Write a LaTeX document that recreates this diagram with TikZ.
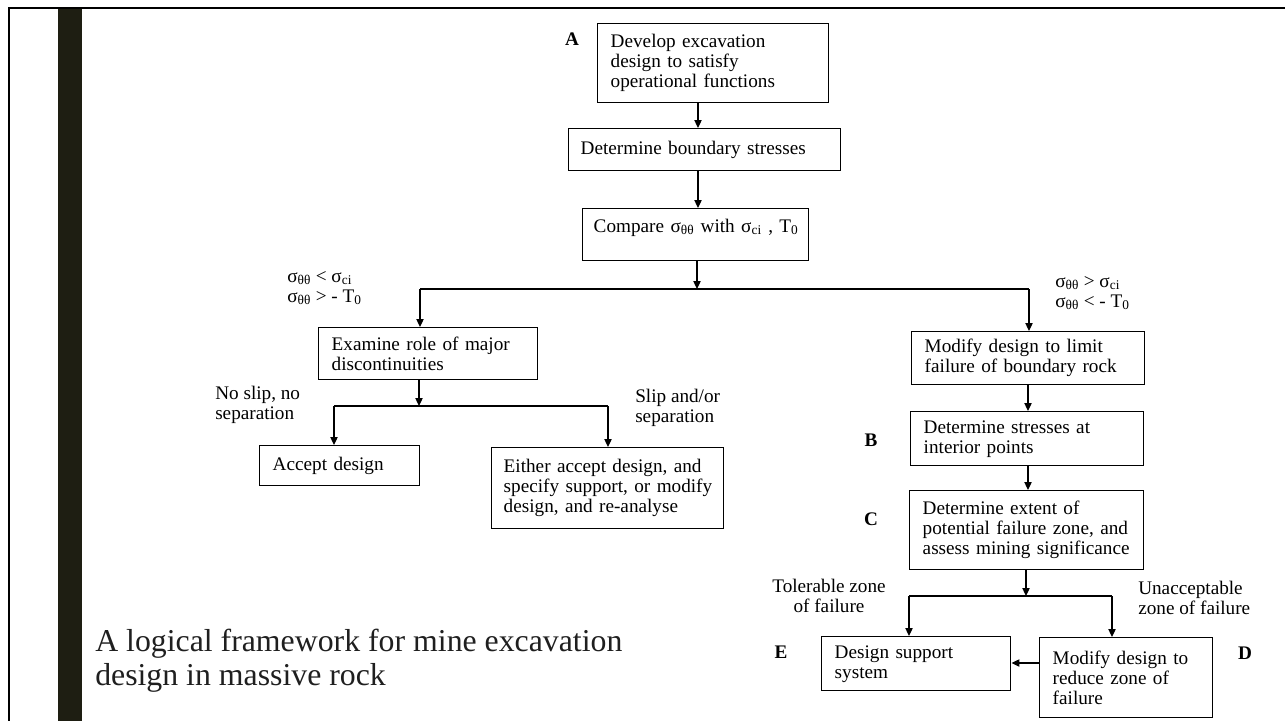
\documentclass[tikz,border=0pt]{standalone}
\usepackage{fontspec}
\setmainfont{Liberation Serif}
\usetikzlibrary{arrows.meta}
\definecolor{barcol}{HTML}{1E1E12}
\begin{document}
\begin{tikzpicture}[x=0.75pt,y=-0.75pt,
  bx/.style={draw, line width=1.1pt, inner xsep=9.75pt, inner ysep=2pt, align=left,
    anchor=north west, font=\fontsize{14.4}{15}\selectfont},
  arr/.style={line width=0.9pt, -{Triangle[length=6pt,width=5.5pt]}},
  ln/.style={line width=0.9pt},
  lbl/.style={font=\fontsize{14.4}{15}\selectfont, inner sep=0pt, align=left},
  tag/.style={font=\fontsize{14.4}{15}\selectfont\bfseries, inner sep=0pt},
  capt/.style={font=\fontsize{23.85}{25.5}\selectfont, inner sep=0pt, align=left, text=black!88}
]
\useasboundingbox (0,0) rectangle (1285,721);
% frame
\fill[barcol] (58,8) rectangle (82,721);
\draw[line width=1.5pt] (9,721) -- (9,8) -- (1285,8);

% boxes
\node[bx, text width=153.75pt, minimum height=59.25pt] (A) at (597,23)
  {\mbox{Develop excavation}\\\mbox{design to satisfy}\\\mbox{operational functions}};
\node[bx, text width=186pt, minimum height=31.5pt, inner xsep=9pt] (Bd) at (568,128)
  {\mbox{Determine boundary stresses}};
\node[bx, text width=153pt, minimum height=39pt, inner xsep=8.25pt, text depth=14pt] (Cmp) at (582,208)
  {\mbox{Compare σ\textsubscript{θθ} with σ\textsubscript{ci} , T\textsubscript{0}}};
\node[bx, text width=144.75pt, minimum height=39pt] (Ex) at (318,327)
  {\mbox{Examine role of major}\\\mbox{discontinuities}};
\node[bx, text width=155.25pt, minimum height=39.75pt] (Md) at (911,331)
  {\mbox{Modify design to limit}\\\mbox{failure of boundary rock}};
\node[bx, text width=100.5pt, minimum height=30pt] (Acc) at (259,445)
  {\mbox{Accept design}};
\node[bx, text width=156pt, minimum height=60.75pt, inner xsep=9pt] (Eit) at (491,447)
  {\mbox{Either accept design, and}\\\mbox{specify support, or modify}\\\mbox{design, and re-analyse}};
\node[bx, text width=155.25pt, minimum height=40.5pt] (Ds) at (910,411)
  {\mbox{Determine stresses at}\\\mbox{interior points}};
\node[bx, text width=156pt, minimum height=59.25pt] (Ext) at (909,490)
  {\mbox{Determine extent of}\\\mbox{potential failure zone, and}\\\mbox{assess mining significance}};
\node[bx, text width=122.25pt, minimum height=40.5pt] (Sup) at (821,636)
  {\mbox{Design support}\\\mbox{system}};
\node[bx, text width=110.25pt, minimum height=60pt] (Red) at (1039,637)
  {\mbox{Modify design to}\\\mbox{reduce zone of}\\\mbox{failure}};

% connector coordinates
\coordinate (x1) at (698,0);
\coordinate (j1) at (697,289);
\coordinate (jL) at (420,289);
\coordinate (jR) at (1029,289);
\coordinate (j2) at (419,406);
\coordinate (jAL) at (334,406);
\coordinate (jAR) at (608,406);
\coordinate (x2) at (1028,0);
\coordinate (j3) at (1026,596);
\coordinate (jBL) at (909,596);
\coordinate (jBR) at (1112,596);
\coordinate (y4) at (0,663);

% connectors
\draw[arr] (A.south -| x1) -- (Bd.north -| x1);
\draw[arr] (Bd.south -| x1) -- (Cmp.north -| x1);
\draw[arr] (Cmp.south -| j1) -- (j1);
\draw[ln] (jL) -- (jR);
\draw[arr] (jL) -- (Ex.north -| jL);
\draw[arr] (jR) -- (Md.north -| jR);
\draw[arr] (Ex.south -| j2) -- (j2);
\draw[ln] (jAL) -- (jAR);
\draw[arr] (jAL) -- (Acc.north -| jAL);
\draw[arr] (jAR) -- (Eit.north -| jAR);
\draw[arr] (Md.south -| x2) -- (Ds.north -| x2);
\draw[arr] (Ds.south -| x2) -- (Ext.north -| x2);
\draw[arr] (Ext.south -| j3) -- (j3);
\draw[ln] (jBL) -- (jBR);
\draw[arr] (jBL) -- (Sup.north -| jBL);
\draw[arr] (jBR) -- (Red.north -| jBR);
\draw[arr] (Red.west |- y4) -- (Sup.east |- y4);

% letter tags
\node[tag] (tA) at (572,39) {A};
\node[tag] (tB) at (871,440) {B};
\node[tag] (tC) at (871,519) {C};
\node[tag] (tE) at (781,652) {E};
\node[tag] (tD) at (1245,653) {D};

% branch labels
\node[lbl, anchor=west] (sL) at (287,288)
  {σ\textsubscript{θθ} < σ\textsubscript{ci}\\σ\textsubscript{θθ} > - T\textsubscript{0}};
\node[lbl, anchor=west] (sR) at (1055,293)
  {σ\textsubscript{θθ} > σ\textsubscript{ci}\\σ\textsubscript{θθ} < - T\textsubscript{0}};
\node[lbl, anchor=west] (nslip) at (215,405) {No slip, no\\separation};
\node[lbl, anchor=west] (slip) at (635,408) {Slip and/or\\separation};
\node[lbl, align=center] (tol) at (829,596) {Tolerable zone\\of failure};
\node[lbl, anchor=west] (unac) at (1138,598) {Unacceptable\\zone of failure};

% caption
\node[capt, anchor=west] (cap) at (95,661)
  {A logical framework for mine excavation\\design in massive rock};
\end{tikzpicture}
\end{document}
